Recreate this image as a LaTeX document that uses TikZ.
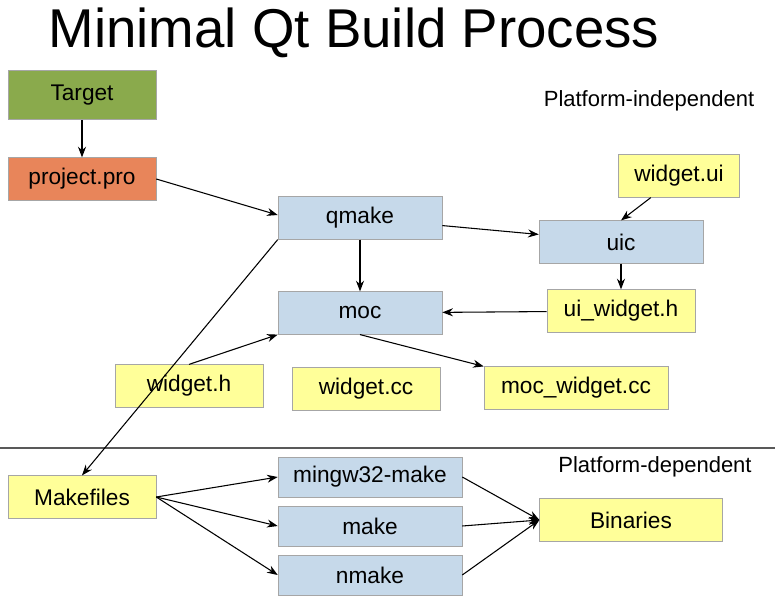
\documentclass[tikz,border=0pt]{standalone}
\usepackage{fontspec}
\setmainfont{Liberation Sans}
\usetikzlibrary{arrows.meta}
\definecolor{qtgreen}{HTML}{8AAA4C}
\definecolor{qtorange}{HTML}{E8855A}
\definecolor{qtblue}{HTML}{C6D9EA}
\definecolor{qtyellow}{HTML}{FFFF99}
\tikzset{
  box/.style={draw=gray!70,minimum height=32pt,font=\fontsize{17}{20}\selectfont},
  tool/.style={box,fill=qtblue,minimum width=123pt},
  file/.style={box,fill=qtyellow,minimum width=111pt},
  arr/.style={-{Stealth[length=8pt,width=6pt]},thick},
}
\begin{document}
\begin{tikzpicture}[x=0.75pt,y=-0.75pt]
\useasboundingbox (0,0) rectangle (775,599);
\node[font=\fontsize{41}{46}\selectfont] (title) at (354,33) {Minimal Qt Build Process};
\node[font=\fontsize{16.5}{19}\selectfont] (indep) at (649,101) {Platform-independent};
\node[font=\fontsize{16.5}{19}\selectfont] (dep) at (655,467) {Platform-dependent};
\draw[thick,gray!70!black] (0,448) -- (775,448);
% nodes
\node[box,fill=qtgreen,minimum width=111pt,minimum height=37pt] (target) at (82,95) {Target};
\node[box,fill=qtorange,minimum width=111pt] (pro) at (82,179) {project.pro};
\node[tool] (qmake) at (360,218) {qmake};
\node[tool] (uic) at (621,242) {uic};
\node[file,minimum width=91pt] (ui) at (679,176) {widget.ui};
\node[tool] (moc) at (360,313) {moc};
\node[file] (uiw) at (621,311) {ui\_widget.h};
\node[file] (wh) at (189,386) {widget.h};
\node[file] (wcc) at (366,389) {widget.cc};
\node[file,minimum width=138pt] (mocw) at (576,388) {moc\_widget.cc};
\node[file] (mk) at (82,497) {Makefiles};
\node[tool,minimum width=138pt,minimum height=30pt] (mingw) at (370,477) {mingw32-make};
\node[tool,minimum width=138pt,minimum height=30pt] (make) at (370,526) {make};
\node[tool,minimum width=138pt,minimum height=30pt] (nmake) at (370,575) {nmake};
\node[file,minimum width=137pt] (bin) at (631,520) {Binaries};
% connectors
\draw[arr] (target) -- (pro);
\draw[arr] (pro.east) -- (qmake.west|-0,215);
\draw[arr] (qmake) -- (uic);
\draw[arr] (ui) -- (uic.north);
\draw[arr] (uic) -- (uiw);
\draw[arr] (uiw) -- (moc);
\draw[arr] (qmake) -- (moc);
\draw[arr] (moc.south) -- (mocw.north west);
\draw[arr] (wh.north) -- (moc.south west);
\draw[arr] (qmake.south west) -- (mk.north);
\foreach \t in {mingw,make,nmake}
  \draw[arr] (mk.east) -- (\t.west);
\foreach \t in {mingw,make,nmake}
  \draw[arr] (\t.east) -- (bin.west);
\end{tikzpicture}
\end{document}
